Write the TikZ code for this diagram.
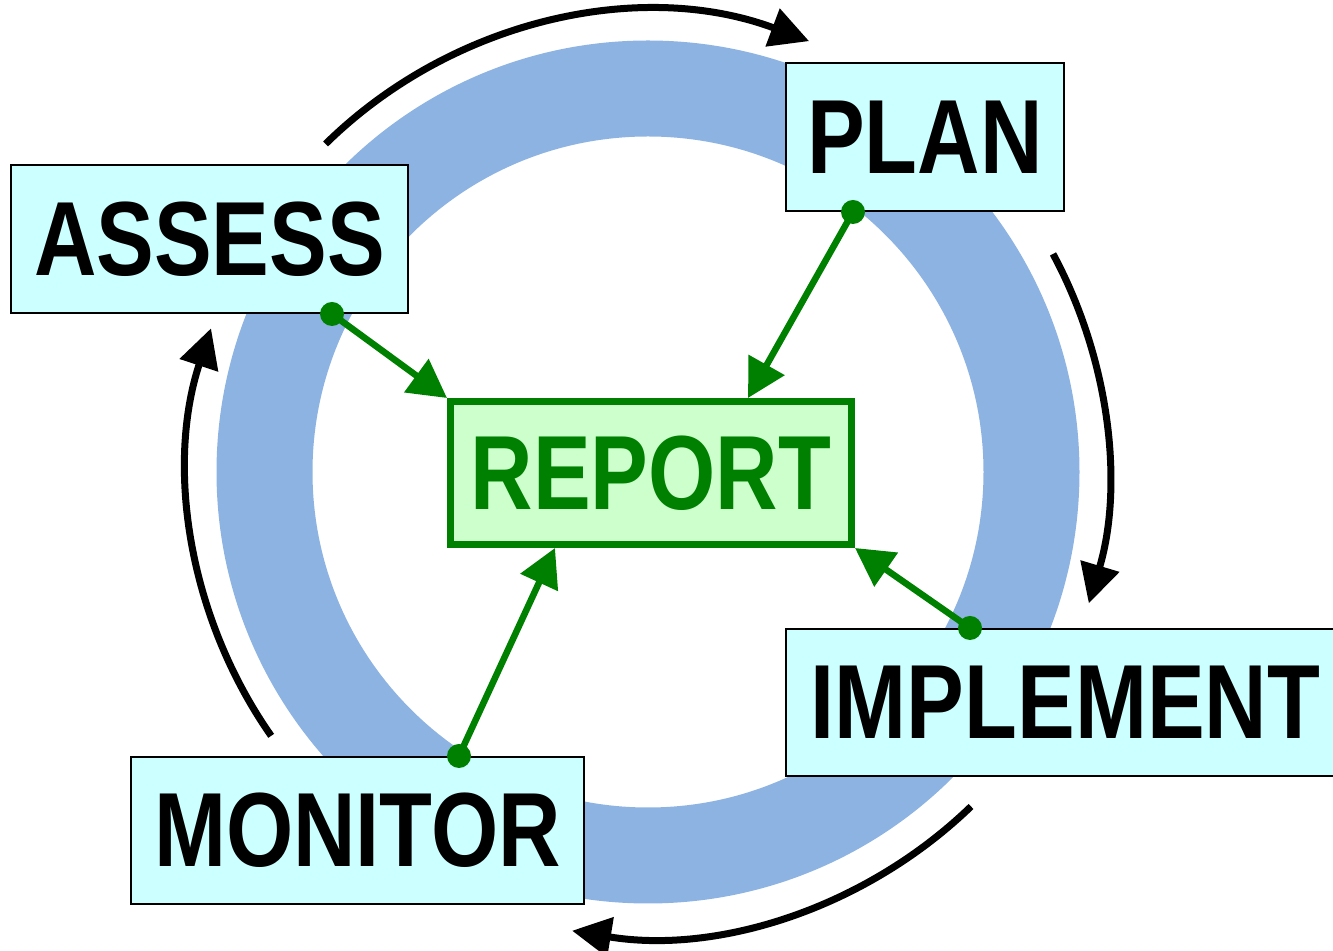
\documentclass[tikz,border=0pt]{standalone}
\usepackage{fontspec}
\newfontfamily\stagefont{Liberation Sans}[FakeStretch=0.82]
\usepackage{tikz}
\usetikzlibrary{arrows.meta}

\definecolor{ringblue}{HTML}{8DB3E2}
\definecolor{stagecyan}{HTML}{CCFFFF}
\definecolor{reportfill}{HTML}{CCFFCC}
\definecolor{reportgreen}{HTML}{008000}

\begin{document}
\begin{tikzpicture}[
            stage/.style={rectangle, draw, line width=0.04cm, fill=stagecyan, minimum height=2.96cm, inner sep=0pt, font=\stagefont\bfseries\fontsize{60}{60}\selectfont},
            reportbox/.style={rectangle, draw=reportgreen, line width=0.14cm, fill=reportfill, text=reportgreen, minimum width=8.02cm, minimum height=2.86cm, inner sep=0pt, font=\stagefont\bfseries\fontsize{60}{60}\selectfont},
            turnarrow/.style={-{Triangle[length=0.78cm, width=0.78cm]}, line width=0.14cm},
            feed/.style={-{Triangle[length=0.76cm, width=0.8cm]}, line width=0.13cm, draw=reportgreen},
            dot/.style={fill=reportgreen}
        ]
        \clip (0,0) rectangle (26.66,19.02);
        \coordinate (ring) at (12.96,9.58);

        % blue ring and the turning arrows round it
        \draw[ringblue, line width=1.92cm] (ring) circle[radius=7.67];
        \draw[turnarrow] ([shift={(134.5:9.2)}]ring) arc[start angle=134.5, end angle=69.5, radius=9.2];
        \draw[turnarrow] ([shift={(28.3:9.2)}]ring) arc[start angle=28.3, end angle=-16.6, radius=9.2];
        \draw[turnarrow] ([shift={(-46:9.3)}]ring) arc[start angle=-46, end angle=-99.4, radius=9.3];
        \draw[turnarrow] ([shift={(215:9.2)}]ring) arc[start angle=215, end angle=161.8, radius=9.2];

        \node[stage, minimum width=7.94cm] (assess) at (4.19,14.24) {ASSESS};
        \node[stage, minimum width=5.56cm] (plan) at (18.5,16.28) {PLAN};
        \node[stage, minimum width=11.18cm, minimum height=2.94cm] (implement) at (21.31,4.97) {IMPLEMENT};
        \node[stage, minimum width=9.06cm, minimum height=2.94cm] (monitor) at (7.15,2.41) {MONITOR};
        \node[reportbox] (report) at (13.02,9.56) {REPORT};

        \coordinate (assessout) at ([xshift=-1.54cm]assess.south east);
        \coordinate (planout) at ([xshift=1.36cm]plan.south west);
        \coordinate (implementout) at ([xshift=3.7cm]implement.north west);
        \coordinate (monitorout) at ([xshift=2.03cm]monitor.north);

        \draw[feed] (assessout) -- (report.north west);
        \draw[feed] (planout) -- ([xshift=1.94cm]report.north);
        \draw[feed] (implementout) -- (report.south east);
        \draw[feed] (monitorout) -- ([xshift=-1.92cm]report.south);
        \fill[dot] (assessout) circle[radius=0.24];
        \fill[dot] (planout) circle[radius=0.24];
        \fill[dot] (implementout) circle[radius=0.24];
        \fill[dot] (monitorout) circle[radius=0.24];
        \end{tikzpicture}
\end{document}
